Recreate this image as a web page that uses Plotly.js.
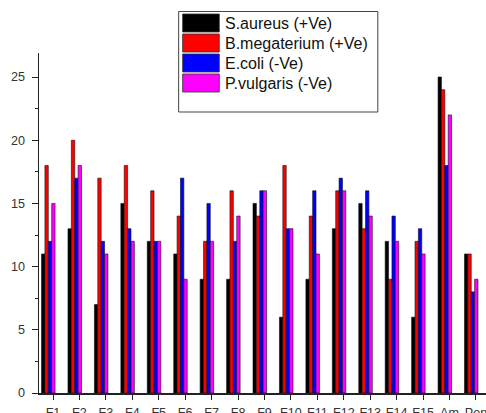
<!DOCTYPE html>
<html><head><meta charset="utf-8">
<script src="https://cdn.plot.ly/plotly-3.0.1.min.js"></script>
<style>html,body{margin:0;padding:0;background:#fff;}#chart{width:486px;height:413px;}</style>
</head><body><div id="chart"></div>
<script>
const categories = ['F1','F2','F3','F4','F5','F6','F7','F8','F9','F10','F11','F12','F13','F14','F15','Am','Pen'];
const seriesNames = ['S.aureus (+Ve)','B.megaterium (+Ve)','E.coli (-Ve)','P.vulgaris (-Ve)'];
const sAureus     = [11,13, 7,15,12,11, 9, 9,15, 6, 9,13,15,12, 6,25,11];
const bMegaterium = [18,20,17,18,16,14,12,16,14,18,14,16,13, 9,12,24,11];
const eColi       = [12,17,12,13,12,17,15,12,16,13,16,17,16,14,13,18, 8];
const pVulgaris   = [15,18,11,12,12, 9,12,14,16,13,11,16,14,12,11,22, 9];
const seriesValues = [sAureus, bMegaterium, eColi, pVulgaris];

const colors = ['#000000','#ff0000','#0000ff','#ff00ff'];
const barWidth = 0.128;
const offsets = [-0.434, -0.306, -0.178, -0.05];

const traces = seriesValues.map((vals, i) => ({
  type: 'bar', name: seriesNames[i], x: categories, y: vals,
  width: barWidth, offset: offsets[i],
  marker: {color: colors[i], line: {color: '#111', width: 0.6}},
  hoverinfo: 'x+y+name'
}));

const L = 38.5, T = 53, W = 447.5, H = 340;
const px2x = p => (p - L) / W;
const py2y = p => (T + H - p) / H;

const shapes = [{
  type: 'rect', xref: 'paper', yref: 'paper',
  x0: px2x(178.3), x1: px2x(377.7), y0: py2y(112), y1: py2y(11.5),
  line: {color: '#444', width: 1}, fillcolor: '#ffffff', layer: 'above'
}];
const annotations = [];
seriesNames.forEach((name, i) => {
  shapes.push({
    type: 'rect', xref: 'paper', yref: 'paper',
    x0: px2x(182.3), x1: px2x(219), y0: py2y(32 + 20 * i), y1: py2y(14 + 20 * i),
    line: {color: '#333', width: 0.8}, fillcolor: colors[i], layer: 'above'
  });
  annotations.push({
    xref: 'paper', yref: 'paper', x: px2x(222.5), y: py2y(23 + 20 * i),
    xanchor: 'left', yanchor: 'middle', showarrow: false, text: name,
    font: {family: 'Arial, Liberation Sans, sans-serif', size: 16, color: '#111'}
  });
});

const minorX = [];
for (let k = -1; k < categories.length; k++) minorX.push(k + 0.5);

const layout = {
  width: 486, height: 413,
  margin: {l: L, r: 0, t: T, b: 20, pad: 0},
  paper_bgcolor: '#ffffff', plot_bgcolor: '#ffffff',
  showlegend: false,
  font: {family: 'Arial, Liberation Sans, sans-serif', size: 12.6, color: '#333'},
  xaxis: {
    type: 'category', range: [-0.53, 16.38],
    showline: true, linecolor: '#222', linewidth: 1.5,
    ticks: 'outside', ticklen: 5, tickwidth: 1, tickcolor: '#222',
    showgrid: false, zeroline: false, ticklabelstandoff: 2,
    tickfont: {size: 12.6, color: '#333'}
  },
  xaxis2: {
    overlaying: 'x', anchor: 'y', side: 'bottom', type: 'linear',
    range: [-0.53, 16.38], tickmode: 'array', tickvals: minorX,
    ticks: 'outside', ticklen: 5, tickwidth: 1, tickcolor: '#222',
    showticklabels: false, showline: false, showgrid: false, zeroline: false
  },
  yaxis: {
    range: [0, 26.9], tickmode: 'linear', tick0: 0, dtick: 5,
    showline: true, linecolor: '#222', linewidth: 1.5,
    ticks: 'outside', ticklen: 6, tickwidth: 1, tickcolor: '#222',
    minor: {ticks: 'outside', ticklen: 3, dtick: 2.5, tickcolor: '#222', tickwidth: 1},
    showgrid: false, zeroline: false, ticklabelstandoff: 4,
    tickfont: {size: 12.6, color: '#333'}
  },
  shapes: shapes,
  annotations: annotations
};

Plotly.newPlot('chart', traces, layout, {displayModeBar: false, staticPlot: true});
</script>
</body></html>
